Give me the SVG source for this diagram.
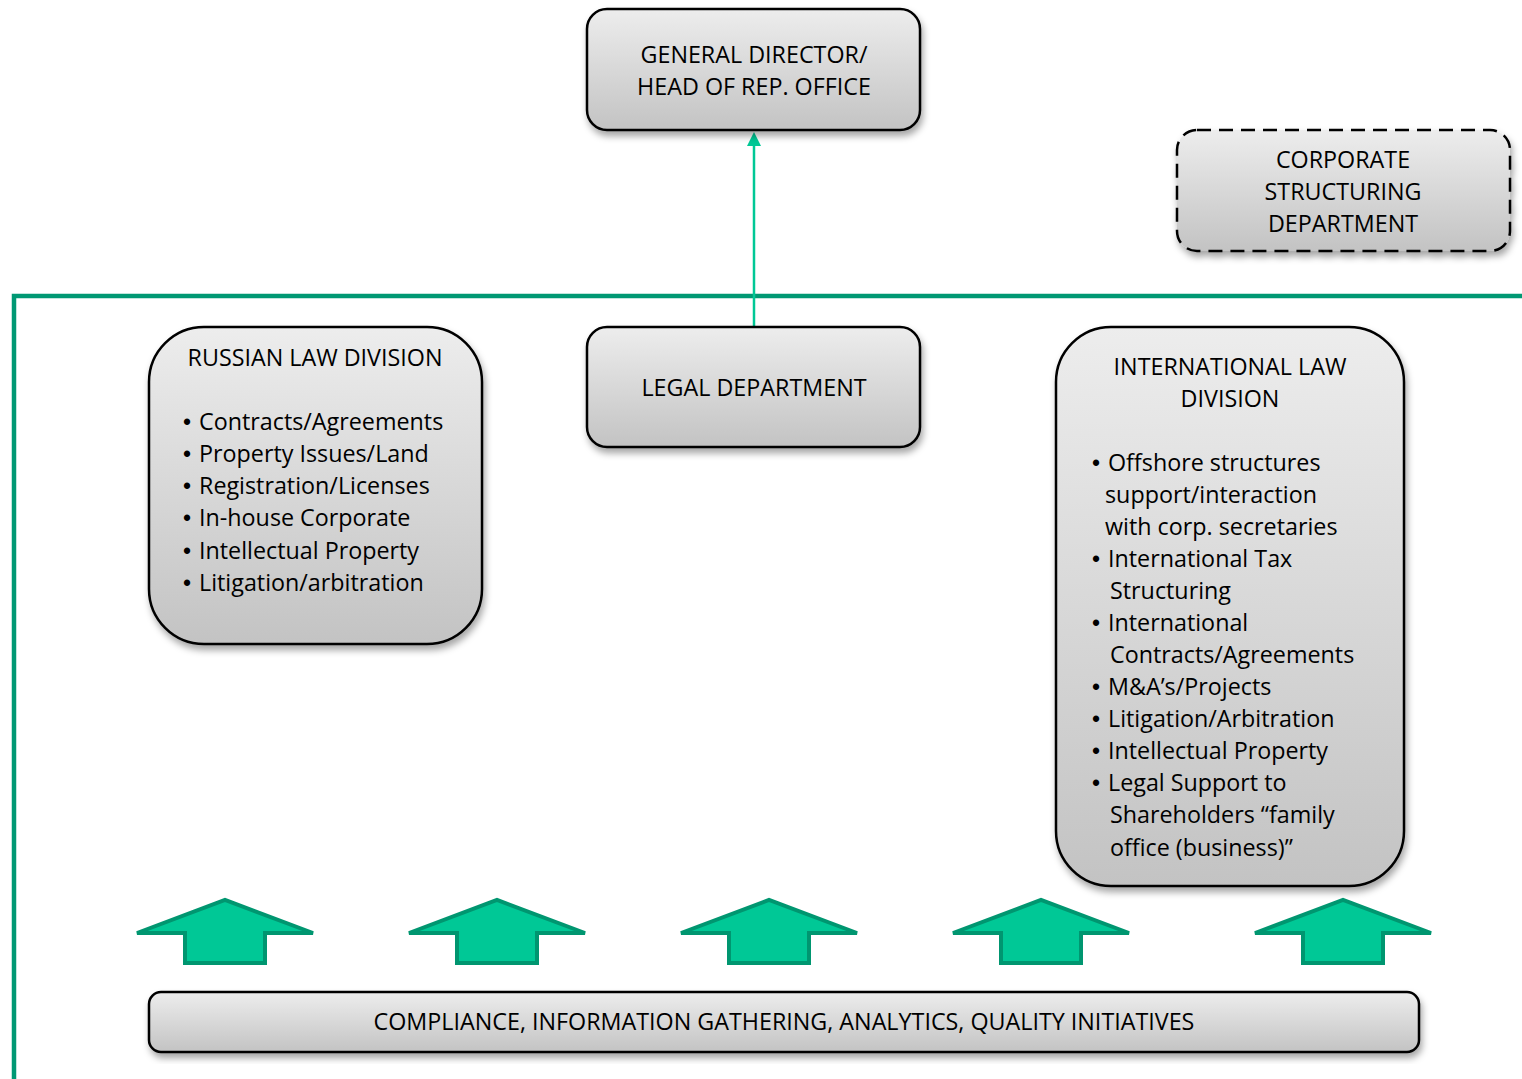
<svg xmlns="http://www.w3.org/2000/svg" width="1522" height="1079" viewBox="0 0 1522 1079">
<defs>
<linearGradient id="g" x1="0" y1="0" x2="0" y2="1">
<stop offset="0" stop-color="#ededed"/>
<stop offset="1" stop-color="#c3c3c3"/>
</linearGradient>
<filter id="sh" x="-10%" y="-10%" width="125%" height="130%">
<feDropShadow dx="2" dy="5" stdDeviation="3.5" flood-color="#000" flood-opacity="0.35"/>
</filter>
<path id="arrow" d="M-88,34 L0,1 L88,34 L40,34 L40,64 L-40,64 L-40,34 Z"/>
</defs>
<style>
.box{fill:url(#g);stroke:#000;stroke-width:2.5;filter:url(#sh)}
.dash{stroke-dasharray:14 8}
text{font-family:"Open Sans","Noto Sans","Liberation Sans",sans-serif;font-size:23.3px;fill:#000}
.c{text-anchor:middle}
.b{font-size:23px;font-family:"Liberation Sans",sans-serif}
.ga{fill:#00c896;stroke:#009670;stroke-width:4;stroke-linejoin:miter}
</style>
<rect width="1522" height="1079" fill="#fff"/>
<g id="frame">
<path d="M14,1079 L14,296 L1522,296" fill="none" stroke="#009873" stroke-width="4.5"/>
</g>
<g id="connectors">
<line x1="754" y1="327" x2="754" y2="146" stroke="#00c896" stroke-width="2.5"/>
<path d="M747,146 L754,132 L761,146 Z" fill="#00c896"/>
</g>
<g id="general-director">
<rect class="box" x="587" y="9" width="333" height="121" rx="20"/>
<text class="c" x="754" y="63">GENERAL DIRECTOR/</text>
<text class="c" x="754" y="95">HEAD OF REP. OFFICE</text>
</g>
<g id="corporate-structuring">
<rect class="box dash" x="1177" y="130" width="333" height="121" rx="20"/>
<text class="c" x="1343" y="168">CORPORATE</text>
<text class="c" x="1343" y="200">STRUCTURING</text>
<text class="c" x="1343" y="232">DEPARTMENT</text>
</g>
<g id="russian-law">
<rect class="box" x="149" y="327" width="333" height="317" rx="55"/>
<text class="c" x="315" y="366">RUSSIAN LAW DIVISION</text>
<text x="183" y="430"><tspan class="b">•</tspan><tspan x="199">Contracts/Agreements</tspan></text>
<text x="183" y="462"><tspan class="b">•</tspan><tspan x="199">Property Issues/Land</tspan></text>
<text x="183" y="494"><tspan class="b">•</tspan><tspan x="199">Registration/Licenses</tspan></text>
<text x="183" y="526"><tspan class="b">•</tspan><tspan x="199">In-house Corporate</tspan></text>
<text x="183" y="559"><tspan class="b">•</tspan><tspan x="199">Intellectual Property</tspan></text>
<text x="183" y="591"><tspan class="b">•</tspan><tspan x="199">Litigation/arbitration</tspan></text>
</g>
<g id="legal-department">
<rect class="box" x="587" y="327" width="333" height="120" rx="20"/>
<text class="c" x="754" y="396">LEGAL DEPARTMENT</text>
</g>
<g id="international-law">
<rect class="box" x="1056" y="327" width="348" height="559" rx="55"/>
<text class="c" x="1230" y="375">INTERNATIONAL LAW</text>
<text class="c" x="1230" y="407">DIVISION</text>
<text x="1092" y="471"><tspan class="b">•</tspan><tspan x="1108">Offshore structures</tspan></text>
<text x="1105" y="503">support/interaction</text>
<text x="1105" y="535">with corp. secretaries</text>
<text x="1092" y="567"><tspan class="b">•</tspan><tspan x="1108">International Tax</tspan></text>
<text x="1110" y="599">Structuring</text>
<text x="1092" y="631"><tspan class="b">•</tspan><tspan x="1108">International</tspan></text>
<text x="1110" y="663">Contracts/Agreements</text>
<text x="1092" y="695"><tspan class="b">•</tspan><tspan x="1108">M&amp;A’s/Projects</tspan></text>
<text x="1092" y="727"><tspan class="b">•</tspan><tspan x="1108">Litigation/Arbitration</tspan></text>
<text x="1092" y="759"><tspan class="b">•</tspan><tspan x="1108">Intellectual Property</tspan></text>
<text x="1092" y="791"><tspan class="b">•</tspan><tspan x="1108">Legal Support to</tspan></text>
<text x="1110" y="823">Shareholders “family</text>
<text x="1110" y="856">office (business)”</text>
</g>
<g id="arrows">
<use href="#arrow" class="ga" x="225" y="899"/>
<use href="#arrow" class="ga" x="497" y="899"/>
<use href="#arrow" class="ga" x="769" y="899"/>
<use href="#arrow" class="ga" x="1041" y="899"/>
<use href="#arrow" class="ga" x="1343" y="899"/>
</g>
<g id="compliance">
<rect class="box" x="149" y="992" width="1270" height="60" rx="12"/>
<text class="c" x="784" y="1030">COMPLIANCE, INFORMATION GATHERING, ANALYTICS, QUALITY INITIATIVES</text>
</g>
</svg>
